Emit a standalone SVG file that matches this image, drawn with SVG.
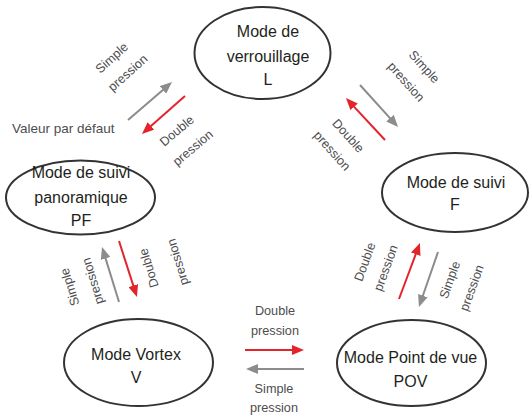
<svg xmlns="http://www.w3.org/2000/svg" width="529" height="416" viewBox="0 0 529 416">
<style>
.node ellipse{fill:#fff;stroke:#333;stroke-width:2}
.nt{font-family:"Liberation Sans",Arial,sans-serif;font-size:16px;fill:#231f20;text-anchor:middle}
.lb{font-family:"Liberation Sans",Arial,sans-serif;font-size:12.7px;fill:#4d4d4f;text-anchor:middle}
.red{stroke:#e3242b;stroke-width:2;fill:none;marker-end:url(#ahr)}
.gray{stroke:#8c8c8e;stroke-width:2;fill:none;marker-end:url(#ahg)}
</style>
<defs>
<marker id="ahr" viewBox="0 0 12 10" refX="3" refY="5" markerWidth="12" markerHeight="10" orient="auto" markerUnits="userSpaceOnUse"><path d="M0,0 L12,5 L0,10 z" fill="#e3242b"/></marker>
<marker id="ahg" viewBox="0 0 12 10" refX="3" refY="5" markerWidth="12" markerHeight="10" orient="auto" markerUnits="userSpaceOnUse"><path d="M0,0 L12,5 L0,10 z" fill="#8c8c8e"/></marker>
</defs>
<rect width="529" height="416" fill="#fff"/>
<g id="node-L" class="node">
<ellipse cx="262.5" cy="53" rx="68" ry="46"/>
<text class="nt" x="268" y="37">Mode de</text>
<text class="nt" x="268" y="62">verrouillage</text>
<text class="nt" x="268" y="85">L</text>
</g>
<g id="node-PF" class="node">
<ellipse cx="80.5" cy="197.5" rx="74.5" ry="37"/>
<text class="nt" x="81" y="178">Mode de suivi</text>
<text class="nt" x="81" y="203">panoramique</text>
<text class="nt" x="81" y="226">PF</text>
</g>
<g id="node-F" class="node">
<ellipse cx="455" cy="192.5" rx="73" ry="39.5"/>
<text class="nt" x="456" y="188">Mode de suivi</text>
<text class="nt" x="455" y="210">F</text>
</g>
<g id="node-V" class="node">
<ellipse cx="138.5" cy="362.5" rx="74.5" ry="43.5"/>
<text class="nt" x="136" y="360">Mode Vortex</text>
<text class="nt" x="136" y="383">V</text>
</g>
<g id="node-POV" class="node">
<ellipse cx="411.5" cy="363" rx="74.5" ry="43"/>
<text class="nt" x="410.5" y="363">Mode Point de vue</text>
<text class="nt" x="410.5" y="387">POV</text>
</g>
<g id="connectors">
<line class="gray" x1="128" y1="120" x2="165.2" y2="87.9"/>
<line class="red" x1="185" y1="96" x2="148.7" y2="128"/>
<line class="gray" x1="360" y1="85" x2="392" y2="120.3"/>
<line class="red" x1="385" y1="140" x2="352.1" y2="104.6"/>
<line class="gray" x1="119" y1="302" x2="104.7" y2="255.6"/>
<line class="red" x1="119" y1="241" x2="134.2" y2="288.4"/>
<line class="red" x1="399" y1="299" x2="416.8" y2="251.4"/>
<line class="gray" x1="438" y1="252" x2="421.9" y2="298.5"/>
<line class="red" x1="245" y1="350" x2="295" y2="350"/>
<line class="gray" x1="304" y1="369" x2="255" y2="369"/>
</g>
<g id="labels">
<text x="12" y="133" font-family="'Liberation Sans',Arial,sans-serif" font-size="13.5" fill="#4d4d4f">Valeur par défaut</text>
<text class="lb" transform="translate(112 58) rotate(-42)" y="4">Simple</text>
<text class="lb" transform="translate(128 73) rotate(-42)" y="4">pression</text>
<text class="lb" transform="translate(177 131) rotate(-40)" y="4">Double</text>
<text class="lb" transform="translate(193 148) rotate(-40)" y="4">pression</text>
<text class="lb" transform="translate(424 67) rotate(48)" y="4">Simple</text>
<text class="lb" transform="translate(406 82) rotate(48)" y="4">pression</text>
<text class="lb" transform="translate(348 136) rotate(48)" y="4">Double</text>
<text class="lb" transform="translate(332 151) rotate(48)" y="4">pression</text>
<text class="lb" transform="translate(70 287) rotate(-107)" y="4">Simple</text>
<text class="lb" transform="translate(93 281) rotate(-107)" y="4">pression</text>
<text class="lb" transform="translate(149 268) rotate(-107)" y="4">Double</text>
<text class="lb" transform="translate(178 262) rotate(-107)" y="4">pression</text>
<text class="lb" transform="translate(365 262) rotate(-70)" y="4">Double</text>
<text class="lb" transform="translate(386 268) rotate(-70)" y="4">pression</text>
<text class="lb" transform="translate(450 280) rotate(-70)" y="4">Simple</text>
<text class="lb" transform="translate(472 288) rotate(-70)" y="4">pression</text>
<text class="lb" x="275" y="315">Double</text>
<text class="lb" x="275" y="335">pression</text>
<text class="lb" x="274" y="393">Simple</text>
<text class="lb" x="274" y="412">pression</text>
</g>
</svg>
